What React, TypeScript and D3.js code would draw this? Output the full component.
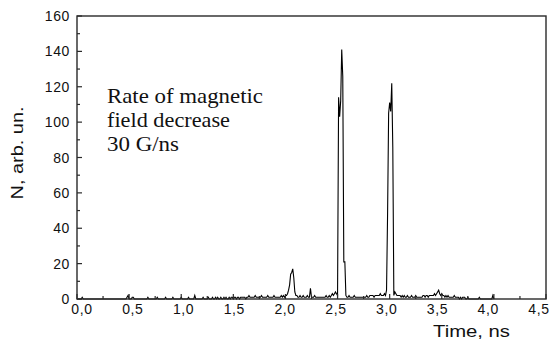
import React from "react";
import * as d3 from "d3";

// Signal N (arb. un.) sampled every 0.01 ns from 0.00 to 4.00 ns (one row = 0.1 ns)
const timeStep = 0.01;
const counts: number[] = [
  0,0,0,0,0,1,0,0,0,0,
  0,0,0,0,0,0,0,0,0,0,
  0,0,0,0,0,0,0,0,0,0,
  0,0,0,0,0,0,0,0,0,0,
  0,0,0,0,0,0,0,0,1,2,
  0,0,0,1,1,0,0,0,0,0,
  0,0,0,0,0,0,0,0,1,0,
  0,0,0,0,0,0,0,1,0,0,
  0,0,0,0,0,1,0,0,0,0,
  0,0,1,0,0,0,0,0,0,0,
  1,0,0,0,0,0,0,1,0,0,
  0,0,0,2,0,0,0,0,0,0,
  0,1,0,0,0,0,1,0,0,0,
  1,0,0,1,0,1,0,0,1,0,
  0,1,0,1,0,0,1,0,1,1,
  0,1,1,0,1,1,0,1,1,1,
  1,1,0,1,1,2,1,1,1,1,
  1,2,1,1,1,1,1,2,1,1,
  1,1,1,2,1,1,1,1,1,2,
  1,1,1,1,1,1,2,1,2,1,
  2,2,3,5,8,14,15,17,12,4,
  2,2,1,1,2,1,1,2,1,1,
  1,2,1,1,6,1,1,1,2,1,
  1,1,1,1,1,1,1,1,1,2,
  1,1,2,1,2,3,2,3,4,3,
  2,114,103,112,141,126,21,21,2,1,
  1,2,1,1,1,1,2,1,1,1,
  1,1,1,1,1,1,1,1,2,1,
  1,2,2,2,2,1,2,2,2,2,
  2,3,2,2,2,3,2,5,48,105,
  111,106,122,86,2,4,3,2,2,2,
  2,1,2,1,2,1,1,2,1,1,
  1,2,1,1,1,2,1,1,1,1,
  1,1,2,2,1,2,2,1,2,2,
  2,2,2,3,2,3,4,5,3,2,
  3,2,2,1,2,1,2,1,1,1,
  1,1,2,1,1,1,1,0,1,0,
  1,1,1,0,0,1,0,0,0,0,
  0,0,0,0,0,0,1,0,0,0,
  0,0,0,0,0,0,0,0,0,2,
  0,
];

const xTicks = [0, 0.5, 1, 1.5, 2, 2.5, 3, 3.5, 4, 4.5];
const xMinorTicks = [0.25, 0.75, 1.25, 1.75, 2.25, 2.75, 3.25, 3.75, 4.25];
const yTicks = [0, 20, 40, 60, 80, 100, 120, 140, 160];
const yMinorTicks = [10, 30, 50, 70, 90, 110, 130, 150];
const annotation = ["Rate of magnetic", "field decrease", "30 G/ns"];
const xTitle = "Time, ns";
const yTitle = "N, arb. un.";

const W = 555;
const H = 342;
const left = 77;
const right = 546;
const top = 16;
const bottom = 299;

const fmt = (v: number) => v.toFixed(1).replace(".", ",");

export default function App() {
  const x = d3.scaleLinear().domain([0, 4.5]).range([left, right]);
  const xLabel = d3.scaleLinear().domain([0, 4.5]).range([82, 539]);
  const y = d3.scaleLinear().domain([0, 160]).range([bottom, top]);
  const pts: [number, number][] = counts.map((v, i) => [i * timeStep, v]);
  const line = d3
    .line<[number, number]>()
    .x((d) => x(d[0]))
    .y((d) => y(d[1]));
  const sans = "Liberation Sans, Arial, sans-serif";
  const frame = "#2a2a2a";
  const annWidths = [156, 123, 72];
  return (
    <svg
      width={W}
      height={H}
      style={{ position: "absolute", left: 0, top: 0, background: "#fff" }}
    >
      <path d={line(pts) || ""} fill="none" stroke="#000" strokeWidth={1.1} />
      <rect
        x={left}
        y={top}
        width={right - left}
        height={bottom - top}
        fill="none"
        stroke={frame}
        strokeWidth={1.4}
      />
      {yTicks.map((t) => (
        <g key={"y" + t}>
          <line x1={left} x2={left + 5} y1={y(t)} y2={y(t)} stroke={frame} strokeWidth={1.2} />
          <text
            x={70}
            y={y(t) + 5}
            textAnchor="end"
            fontFamily={sans}
            fontSize={14}
            letterSpacing={0.6}
            fill="#111"
          >
            {t}
          </text>
        </g>
      ))}
      {yMinorTicks.map((t) => (
        <line key={"ym" + t} x1={left} x2={left + 3} y1={y(t)} y2={y(t)} stroke={frame} strokeWidth={1.2} />
      ))}
      {xTicks.map((t) => (
        <g key={"x" + t}>
          <line x1={x(t)} x2={x(t)} y1={bottom} y2={bottom - 5} stroke={frame} strokeWidth={1.2} />
          <text
            x={xLabel(t)}
            y={314}
            textAnchor="middle"
            fontFamily={sans}
            fontSize={14}
            letterSpacing={0.6}
            fill="#111"
          >
            {fmt(t)}
          </text>
        </g>
      ))}
      {xMinorTicks.map((t) => (
        <line key={"xm" + t} x1={x(t)} x2={x(t)} y1={bottom} y2={bottom - 3} stroke={frame} strokeWidth={1.2} />
      ))}
      <text
        x={433}
        y={337}
        fontFamily={sans}
        fontSize={16}
        textLength={77}
        lengthAdjust="spacingAndGlyphs"
        fill="#111"
      >
        {xTitle}
      </text>
      <text
        transform="translate(23,153) rotate(-90)"
        textAnchor="middle"
        fontFamily={sans}
        fontSize={16}
        textLength={93}
        lengthAdjust="spacingAndGlyphs"
        fill="#111"
      >
        {yTitle}
      </text>
      {annotation.map((s, i) => (
        <text
          key={s}
          x={107}
          y={103 + i * 24}
          fontFamily="Liberation Serif, Times New Roman, serif"
          fontSize={21}
          textLength={annWidths[i]}
          lengthAdjust="spacingAndGlyphs"
          fill="#111"
        >
          {s}
        </text>
      ))}
    </svg>
  );
}
